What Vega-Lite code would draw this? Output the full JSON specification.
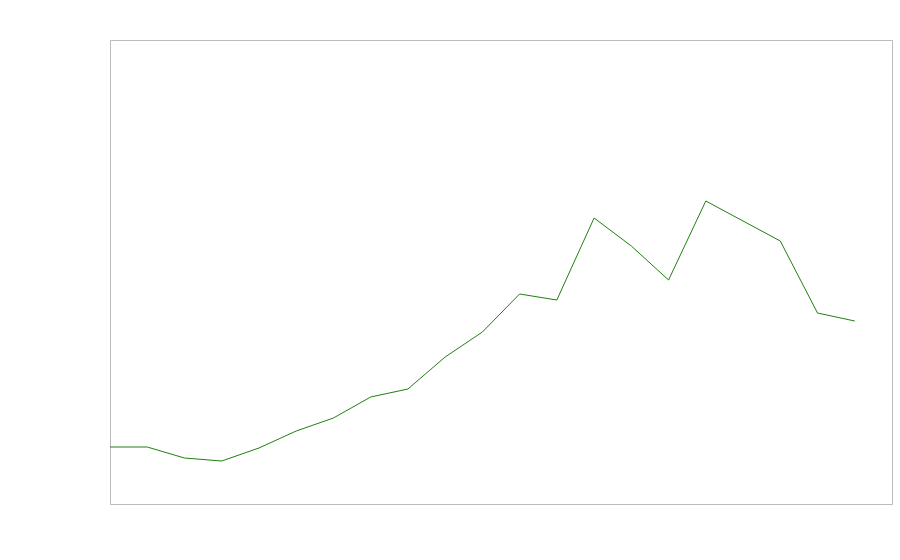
{
  "$schema": "https://vega.github.io/schema/vega-lite/v6.json",
  "autosize": {"type": "none"},
  "padding": {"left": 110, "top": 40, "right": 8, "bottom": 56},
  "width": 782,
  "height": 464,
  "background": "white",
  "config": {"view": {"stroke": "#bbbbbb", "strokeWidth": 1}},
  "data": {"values": [
    {"i": 0, "v": 57}, {"i": 1, "v": 57}, {"i": 2, "v": 46}, {"i": 3, "v": 43},
    {"i": 4, "v": 56}, {"i": 5, "v": 73}, {"i": 6, "v": 86}, {"i": 7, "v": 107},
    {"i": 8, "v": 115}, {"i": 9, "v": 147}, {"i": 10, "v": 172}, {"i": 11, "v": 210},
    {"i": 12, "v": 204}, {"i": 13, "v": 286}, {"i": 14, "v": 258}, {"i": 15, "v": 224},
    {"i": 16, "v": 303}, {"i": 17, "v": 283}, {"i": 18, "v": 263}, {"i": 19, "v": 191},
    {"i": 20, "v": 183}
  ]},
  "mark": {"type": "line", "color": "#1f800f", "strokeWidth": 1},
  "encoding": {
    "x": {"field": "i", "type": "quantitative", "scale": {"domain": [0, 21], "nice": false, "zero": false}, "axis": null},
    "y": {"field": "v", "type": "quantitative", "scale": {"domain": [0, 464], "nice": false}, "axis": null}
  }
}
